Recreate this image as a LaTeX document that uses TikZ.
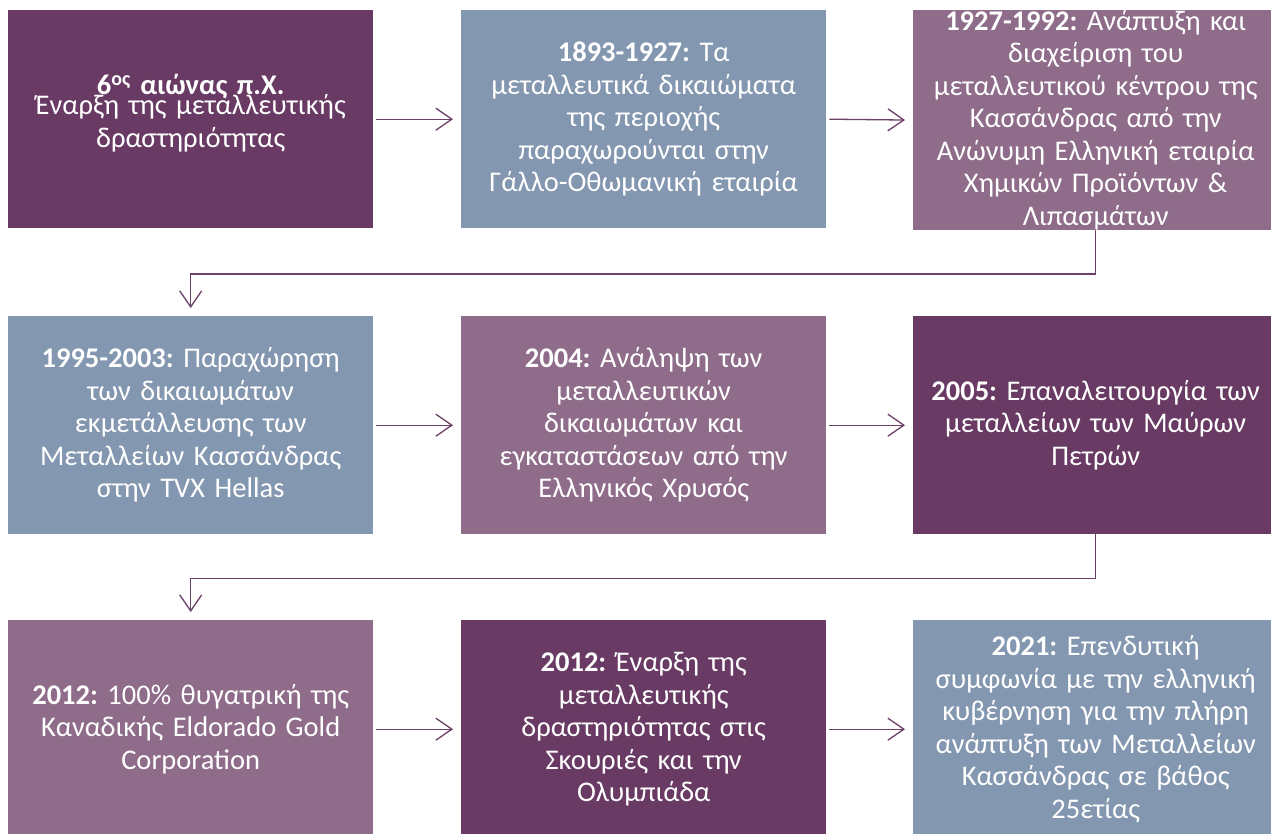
\documentclass[tikz,border=0pt]{standalone}
\usepackage{fontspec}
\setmainfont{Carlito}
\usetikzlibrary{arrows.meta}
\definecolor{darkpurple}{HTML}{683A64}
\definecolor{bluegray}{HTML}{8497B0}
\definecolor{midpurple}{HTML}{8E6C8A}
\definecolor{arrowcol}{HTML}{6C3F68}
\tikzset{
  box/.style={rectangle, anchor=north west, minimum width=365pt, minimum height=218pt,
    inner sep=0pt, text width=360pt, align=center, text=white,
    font=\fontsize{28.5}{32.5}\selectfont},
  arr/.style={draw=arrowcol, line width=1.3pt, -{Straight Barb[length=16pt,width=22pt]}}
}
\begin{document}
\frenchspacing
\begin{tikzpicture}[x=1pt,y=-1pt]
\useasboundingbox (0,0) rectangle (1271,834);
\clip (0,0) rectangle (1271,834);
\fill[white] (0,0) rectangle (1271,834);
% row 1
\node[box, fill=darkpurple] (b1) at (8,10) {\raisebox{0pt}[0pt][0pt]{\parbox{360pt}{\centering\textbf{6\textsuperscript{ος} αιώνας π.Χ.}\\[-12pt]Έναρξη της μεταλλευτικής\\δραστηριότητας}}};
\node[box, fill=bluegray] (b2) at (461,10) {\textbf{1893-1927:} Τα\\μεταλλευτικά δικαιώματα\\της περιοχής\\παραχωρούνται στην\\Γάλλο-Οθωμανική εταιρία};
\node[box, fill=midpurple] (b3) at (913,10) {\textbf{1927-1992:} Ανάπτυξη και\\διαχείριση του\\μεταλλευτικού κέντρου της\\Κασσάνδρας από την\\Ανώνυμη Ελληνική εταιρία\\Χημικών Προϊόντων \&\\Λιπασμάτων};
% row 2
\node[box, fill=bluegray] (b4) at (8,316) {\textbf{1995-2003:} Παραχώρηση\\των δικαιωμάτων\\εκμετάλλευσης των\\Μεταλλείων Κασσάνδρας\\στην TVX Hellas};
\node[box, fill=midpurple] (b5) at (461,316) {\textbf{2004:} Ανάληψη των\\μεταλλευτικών\\δικαιωμάτων και\\εγκαταστάσεων από την\\Ελληνικός Χρυσός};
\node[box, fill=darkpurple] (b6) at (913,316) {\textbf{2005:} Επαναλειτουργία των\\μεταλλείων των Μαύρων\\Πετρών};
% row 3
\node[box, fill=midpurple] (b7) at (8,620) {\textbf{2012:} 100\% θυγατρική της\\Καναδικής Eldorado Gold\\Corporation};
\node[box, fill=darkpurple] (b8) at (461,620) {\textbf{2012:} Έναρξη της\\μεταλλευτικής\\δραστηριότητας στις\\Σκουριές και την\\Ολυμπιάδα};
\node[box, fill=bluegray] (b9) at (913,620) {\textbf{2021:} Επενδυτική\\συμφωνία με την ελληνική\\κυβέρνηση για την πλήρη\\ανάπτυξη των Μεταλλείων\\Κασσάνδρας σε βάθος\\25ετίας};
% connectors
\draw[arr] ([xshift=3pt]b1.east) -- ([xshift=-8pt]b2.west);
\draw[arr] ([xshift=3pt]b2.east) -- ([xshift=-8pt]b3.west);
\draw[arr] (b3.south) -- ++(0,44) -| ([yshift=8pt]b4.north);
\draw[arr] ([xshift=3pt]b4.east) -- ([xshift=-8pt]b5.west);
\draw[arr] ([xshift=3pt]b5.east) -- ([xshift=-8pt]b6.west);
\draw[arr] (b6.south) -- ++(0,44) -| ([yshift=8pt]b7.north);
\draw[arr] ([xshift=3pt]b7.east) -- ([xshift=-8pt]b8.west);
\draw[arr] ([xshift=3pt]b8.east) -- ([xshift=-8pt]b9.west);
\end{tikzpicture}
\end{document}
